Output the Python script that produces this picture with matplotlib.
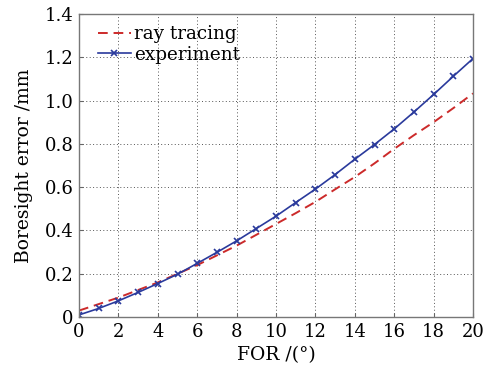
import matplotlib
matplotlib.use("Agg")
import matplotlib.pyplot as plt
from matplotlib.ticker import FixedLocator, FixedFormatter

fov = list(range(0, 21))
experiment = [0.01, 0.04, 0.075, 0.114, 0.155, 0.198, 0.248, 0.299, 0.352, 0.409,
              0.466, 0.529, 0.591, 0.658, 0.729, 0.797, 0.869, 0.947, 1.028, 1.112, 1.194]
ray_tracing = [0.03, 0.06, 0.09, 0.125, 0.16, 0.2, 0.24, 0.285, 0.33, 0.38,
               0.43, 0.48, 0.532, 0.59, 0.647, 0.71, 0.777, 0.84, 0.90, 0.965, 1.033]
xticks = [0, 2, 4, 6, 8, 10, 12, 14, 16, 18, 20]
yticks = [0, 0.2, 0.4, 0.6, 0.8, 1.0, 1.2, 1.4]
ylabels = ["0", "0.2", "0.4", "0.6", "0.8", "1.0", "1.2", "1.4"]

plt.rcParams['font.family'] = ['DejaVu Serif']
fig = plt.figure(figsize=(5, 3.67), dpi=100)
ax = fig.add_axes([0.158, 0.136, 0.788, 0.826])

ax.plot(fov, ray_tracing, linestyle=(0, (5, 3)), color='#cc2a2a', lw=1.4, label='ray tracing')
ax.plot(fov, experiment, '-', color='#2a3a9c', lw=1.2, marker='x', ms=4, mew=1.2, label='experiment')

ax.set_xlim(0, 20)
ax.set_ylim(0, 1.4)
ax.xaxis.set_major_locator(FixedLocator(xticks))
ax.yaxis.set_major_locator(FixedLocator(yticks))
ax.yaxis.set_major_formatter(FixedFormatter(ylabels))
ax.tick_params(direction='in', length=3, labelsize=13, color='#666666', pad=4)
ax.grid(True, linestyle=(0, (1, 2.5)), color='#555555', lw=0.7)
for s in ax.spines.values():
    s.set_color('#777777')
    s.set_linewidth(1.0)

ax.set_xlabel('FOR /(°)', fontsize=13.5, labelpad=4)
ax.set_ylabel('Boresight error /mm', fontsize=13.5, labelpad=8)
ax.legend(loc='upper left', frameon=False, fontsize=13.2, handlelength=1.8,
          handletextpad=0.15, borderaxespad=0.2, labelspacing=0.15,
          bbox_to_anchor=(0.02, 1.0))

fig.savefig('out.png', dpi=100, facecolor='white')
